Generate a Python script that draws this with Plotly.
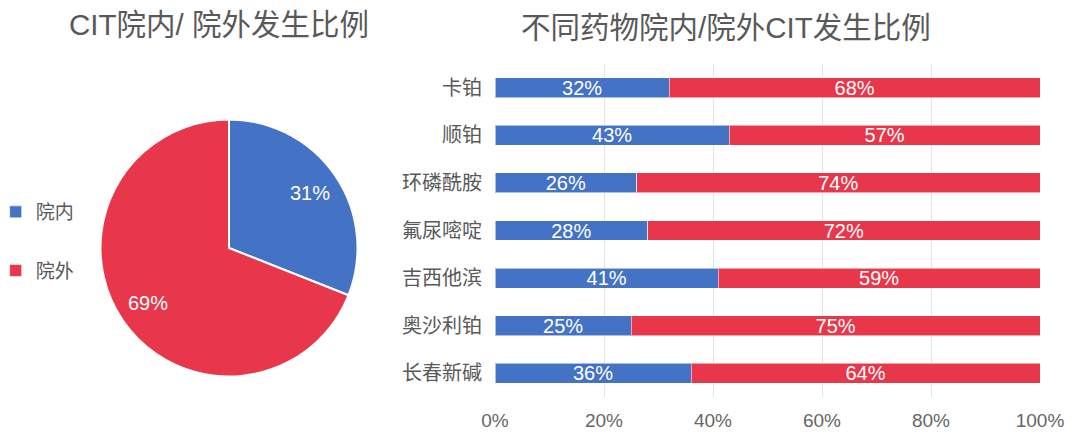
import math
import plotly.graph_objects as go

# ---- data ----
pie_labels = ["院内", "院外"]
pie_values = [31, 69]

drugs = ["卡铂", "顺铂", "环磷酰胺", "氟尿嘧啶", "吉西他滨", "奥沙利铂", "长春新碱"]
inside_pct = [32, 43, 26, 28, 41, 25, 36]
outside_pct = [68, 57, 74, 72, 59, 75, 64]
x_ticks = [0, 20, 40, 60, 80, 100]
x_tick_text = ["0%", "20%", "40%", "60%", "80%", "100%"]

title_left = "CIT院内/ 院外发生比例"
title_right = "不同药物院内/院外CIT发生比例"

BLUE = "#4472C4"
RED = "#E8374B"
GRAY = "#595959"
FONT = "Liberation Sans, Noto Sans CJK SC, sans-serif"

W, H = 1080, 447
PCX, PCY, PR = 229, 248, 128.5  # pie centre / radius in px

fig = go.Figure()

fig.add_trace(go.Pie(
    labels=pie_labels, values=pie_values,
    sort=False, direction="clockwise", rotation=0,
    marker=dict(colors=[BLUE, RED], line=dict(color="white", width=2)),
    textinfo="none",
    showlegend=False, hoverinfo="label+percent",
    domain=dict(x=[(PCX - PR) / W, (PCX + PR) / W],
                y=[1 - (PCY + PR) / H, 1 - (PCY - PR) / H]),
))

# percentage labels placed at 0.76 of the radius along each slice's mid-angle
annotations = []
total = sum(pie_values)
cum = 0
for v in pie_values:
    mid = (cum + v / 2) / total * 2 * math.pi
    cum += v
    px = PCX + 0.76 * PR * math.sin(mid)
    py = PCY - 0.76 * PR * math.cos(mid)
    annotations.append(dict(text=f"{round(v / total * 100)}%", x=px / W, y=1 - py / H,
                            xref="paper", yref="paper", showarrow=False,
                            xanchor="center", yanchor="middle",
                            font=dict(size=20, color="white", family=FONT)))

for name, vals, col, grp in [("院内", inside_pct, BLUE, "a"), ("院外", outside_pct, RED, "b")]:
    fig.add_trace(go.Bar(
        y=drugs, x=vals, name=name, orientation="h",
        marker=dict(color=col, line=dict(color="rgba(255,255,255,0.55)", width=1)),
        text=[f"{v}%" for v in vals], textposition="inside",
        insidetextanchor="middle", constraintext="none",
        textfont=dict(color="white", size=20, family=FONT),
        legendgroup=grp,
    ))

annotations += [
    dict(text=title_left, x=218.5 / W, y=1 - 24.5 / H, xref="paper", yref="paper",
         showarrow=False, xanchor="center", yanchor="middle",
         font=dict(size=29.5, color=GRAY, family=FONT)),
    dict(text=title_right, x=725.5 / W, y=1 - 27.5 / H, xref="paper", yref="paper",
         showarrow=False, xanchor="center", yanchor="middle",
         font=dict(size=29.5, color=GRAY, family=FONT)),
]

fig.update_layout(
    width=W, height=H,
    margin=dict(l=0, r=0, t=0, b=0, autoexpand=False),
    paper_bgcolor="white", plot_bgcolor="white",
    barmode="stack", bargap=0.58,
    font=dict(family=FONT, color=GRAY),
    xaxis=dict(domain=[495 / W, 1040 / W], range=[0, 100],
               tickmode="array", tickvals=x_ticks, ticktext=x_tick_text,
               showgrid=True, gridcolor="#E3E3E3", gridwidth=1,
               zeroline=False, showline=False, automargin=False,
               tickfont=dict(size=19, color="#666666", family=FONT),
               ticklabelstandoff=10, fixedrange=True),
    yaxis=dict(domain=[1 - 397 / H, 1 - 64 / H], autorange="reversed",
               showgrid=False, zeroline=False, showline=False, automargin=False,
               tickfont=dict(size=20, color=GRAY, family=FONT),
               ticklabelstandoff=12, fixedrange=True),
    legend=dict(x=-0.004, xanchor="left", y=1 - 193 / H, yanchor="top",
                font=dict(size=19, color=GRAY, family=FONT),
                tracegroupgap=31, bgcolor="rgba(0,0,0,0)"),
    annotations=annotations,
)

fig.write_html("out.html")
